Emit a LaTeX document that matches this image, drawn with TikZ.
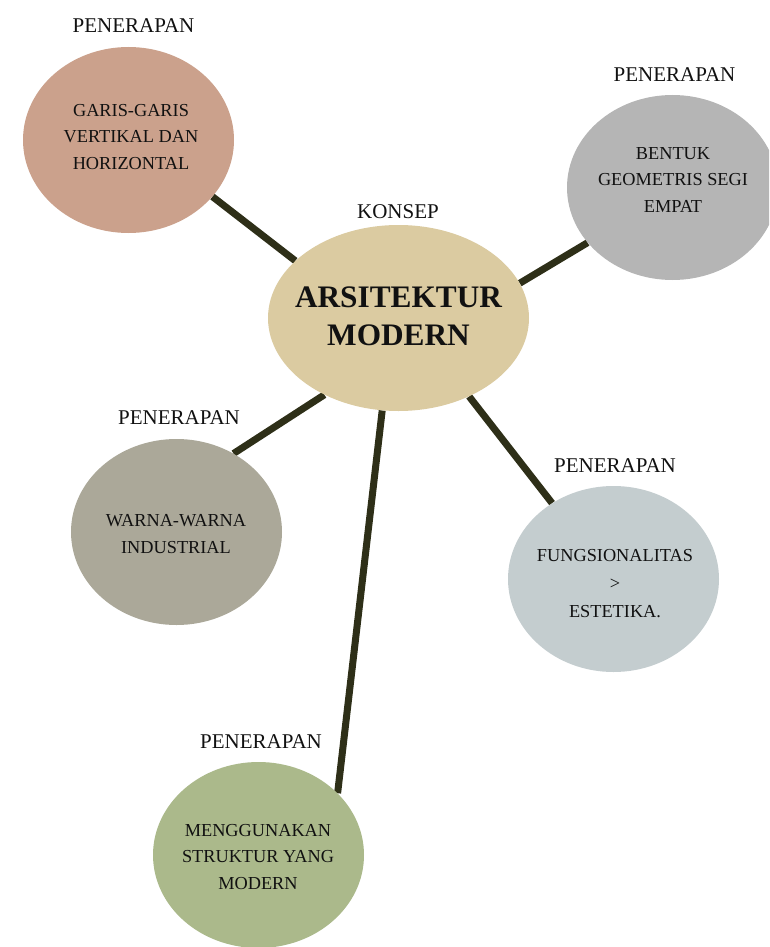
\documentclass[tikz,border=0pt]{standalone}
\usepackage{fontspec}
\setmainfont{Liberation Serif}
\usetikzlibrary{shapes.geometric,backgrounds}
\definecolor{cGaris}{HTML}{CBA18C}
\definecolor{cBentuk}{HTML}{B5B5B5}
\definecolor{cCentral}{HTML}{DBCBA1}
\definecolor{cWarna}{HTML}{ABA899}
\definecolor{cFungs}{HTML}{C4CDCF}
\definecolor{cMengg}{HTML}{ABB98B}
\definecolor{cLine}{HTML}{2E2F18}
\definecolor{cText}{HTML}{111111}
\begin{document}
\begin{tikzpicture}[x=1pt,y=-1pt,
  blob/.style={ellipse,draw=none,inner sep=0pt,minimum width=211pt,minimum height=186pt},
  tag/.style={text=cText,font=\fontsize{21}{25}\selectfont,inner sep=0pt},
  inner/.style={text=cText,align=center,font=\fontsize{18.3}{26.5}\selectfont,inner sep=0pt},
  link/.style={draw=cLine,line width=7pt}]
\useasboundingbox (0,0) rectangle (769,947);
\clip (0,0) rectangle (769,947);
% ellipses
\node[blob,fill=cGaris] (g) at (128.5,140) {};
\node[blob,fill=cBentuk,minimum height=185pt] (b) at (672.5,187.5) {};
\node[blob,fill=cCentral,minimum width=261pt] (c) at (398.5,318) {};
\node[blob,fill=cWarna] (w) at (176.5,532) {};
\node[blob,fill=cFungs] (f) at (613.5,579) {};
\node[blob,fill=cMengg] (m) at (258.5,855) {};
% connectors
\begin{pgfonlayer}{background}
\draw[link] (g.-34) -- (c.151.4);
\draw[link] (c.16.6) -- (b.213.4);
\draw[link] (c.226) -- (w.54.9);
\draw[link] (c.312) -- (f.129.9);
\draw[link] (c.260.5) -- (m.38.1);
\end{pgfonlayer}
% labels
\node[tag] (tg) at (133.5,25.5) {PENERAPAN};
\node[tag] (tb) at (674.5,75) {PENERAPAN};
\node[tag] (tc) at (398,211.5) {KONSEP};
\node[tag] (tw) at (179,418) {PENERAPAN};
\node[tag] (tf) at (615,465.5) {PENERAPAN};
\node[tag] (tm) at (261,742) {PENERAPAN};
% texts
\node[inner] (xg) at (131,137) {GARIS-GARIS\\VERTIKAL DAN\\HORIZONTAL};
\node[inner] (xb) at (673,180) {BENTUK\\GEOMETRIS SEGI\\EMPAT};
\node[inner,font=\bfseries\fontsize{31.3}{38}\selectfont] (xc) at (398.5,316) {ARSITEKTUR\\MODERN};
\node[inner] (xw) at (176,534) {WARNA-WARNA\\INDUSTRIAL};
\node[inner,font=\fontsize{18.3}{28}\selectfont] (xf) at (615,584) {FUNGSIONALITAS\\>\\ESTETIKA.};
\node[inner] (xm) at (258,857) {MENGGUNAKAN\\STRUKTUR YANG\\MODERN};
\end{tikzpicture}
\end{document}
